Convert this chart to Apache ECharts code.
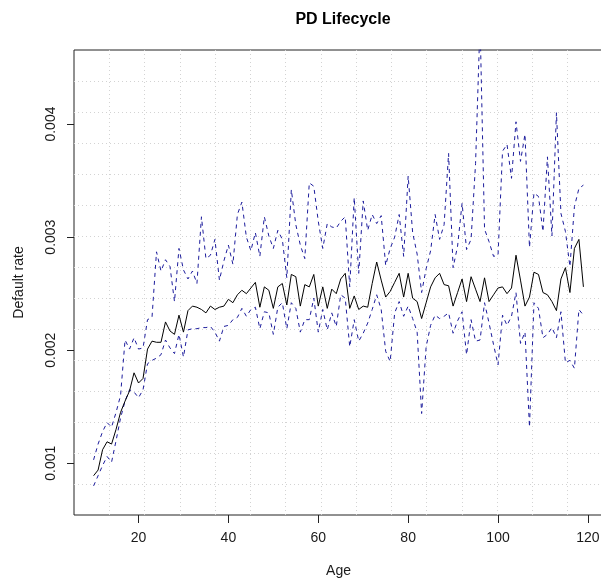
<!DOCTYPE html>
<html>
<head>
<meta charset="utf-8">
<script src="https://cdn.jsdelivr.net/npm/echarts@6/dist/echarts.min.js"></script>
<style>
html, body { margin: 0; padding: 0; background: #fff; }
#main { width: 601px; height: 579px; }
</style>
</head>
<body>
<div id="main"></div>
<script>
// ages 10..119
var ages = [
  10, 11, 12, 13, 14, 15, 16, 17, 18, 19,
  20, 21, 22, 23, 24, 25, 26, 27, 28, 29,
  30, 31, 32, 33, 34, 35, 36, 37, 38, 39,
  40, 41, 42, 43, 44, 45, 46, 47, 48, 49,
  50, 51, 52, 53, 54, 55, 56, 57, 58, 59,
  60, 61, 62, 63, 64, 65, 66, 67, 68, 69,
  70, 71, 72, 73, 74, 75, 76, 77, 78, 79,
  80, 81, 82, 83, 84, 85, 86, 87, 88, 89,
  90, 91, 92, 93, 94, 95, 96, 97, 98, 99,
  100, 101, 102, 103, 104, 105, 106, 107, 108, 109,
  110, 111, 112, 113, 114, 115, 116, 117, 118, 119
];

// PD 均值 (黑色实线)
var meanRate = [
  0.00089, 0.00094, 0.00112, 0.00119, 0.00117, 0.00130, 0.00145, 0.00155, 0.00164, 0.00180,
  0.00171, 0.00175, 0.00201, 0.00208, 0.00207, 0.00207, 0.00225, 0.00217, 0.00214, 0.00231,
  0.00216, 0.00235, 0.00239, 0.00238, 0.00236, 0.00233, 0.00239, 0.00236, 0.00238, 0.00239,
  0.00245, 0.00242, 0.00249, 0.00253, 0.00250, 0.00255, 0.00260, 0.00238, 0.00256, 0.00253,
  0.00237, 0.00256, 0.00259, 0.00240, 0.00267, 0.00265, 0.00239, 0.00258, 0.00256, 0.00267,
  0.00239, 0.00256, 0.00237, 0.00254, 0.00250, 0.00263, 0.00268, 0.00237, 0.00248, 0.00236,
  0.00239, 0.00238, 0.00259, 0.00278, 0.00262, 0.00247, 0.00252, 0.00260, 0.00268, 0.00247,
  0.00268, 0.00246, 0.00243, 0.00228, 0.00242, 0.00256, 0.00264, 0.00268, 0.00258, 0.00257,
  0.00239, 0.00251, 0.00263, 0.00243, 0.00265, 0.00254, 0.00243, 0.00264, 0.00243, 0.00249,
  0.00255, 0.00256, 0.00250, 0.00255, 0.00284, 0.00262, 0.00239, 0.00247, 0.00269, 0.00267,
  0.00251, 0.00249, 0.00243, 0.00235, 0.00263, 0.00273, 0.00251, 0.00290, 0.00298, 0.00256
];

// 上界 (蓝色虚线)
var upperRate = [
  0.00103, 0.00117, 0.00128, 0.00136, 0.00132, 0.00145, 0.00160, 0.00209, 0.00201, 0.00211,
  0.00201, 0.00202, 0.00227, 0.00229, 0.00287, 0.00270, 0.00280, 0.00274, 0.00243, 0.00290,
  0.00271, 0.00263, 0.00270, 0.00259, 0.00318, 0.00281, 0.00284, 0.00298, 0.00262, 0.00279,
  0.00293, 0.00276, 0.00320, 0.00331, 0.00300, 0.00288, 0.00304, 0.00283, 0.00318, 0.00301,
  0.00290, 0.00306, 0.00298, 0.00264, 0.00342, 0.00311, 0.00293, 0.00281, 0.00348, 0.00345,
  0.00314, 0.00290, 0.00312, 0.00309, 0.00308, 0.00314, 0.00318, 0.00256, 0.00335, 0.00268,
  0.00332, 0.00306, 0.00320, 0.00312, 0.00319, 0.00275, 0.00290, 0.00300, 0.00320, 0.00283,
  0.00354, 0.00304, 0.00285, 0.00251, 0.00272, 0.00288, 0.00320, 0.00298, 0.00311, 0.00374,
  0.00273, 0.00292, 0.00330, 0.00289, 0.00298, 0.00365, 0.00490, 0.00307, 0.00296, 0.00283,
  0.00284, 0.00376, 0.00382, 0.00352, 0.00402, 0.00367, 0.00391, 0.00291, 0.00339, 0.00336,
  0.00305, 0.00371, 0.00301, 0.00410, 0.00321, 0.00305, 0.00274, 0.00327, 0.00343, 0.00346
];

// 下界 (蓝色虚线)
var lowerRate = [
  0.00080, 0.00089, 0.00098, 0.00106, 0.00101, 0.00120, 0.00140, 0.00155, 0.00165, 0.00163,
  0.00158, 0.00165, 0.00188, 0.00191, 0.00193, 0.00196, 0.00209, 0.00202, 0.00197, 0.00214,
  0.00194, 0.00218, 0.00219, 0.00219, 0.00220, 0.00220, 0.00221, 0.00216, 0.00208, 0.00221,
  0.00222, 0.00227, 0.00229, 0.00237, 0.00230, 0.00236, 0.00238, 0.00219, 0.00234, 0.00233,
  0.00214, 0.00238, 0.00242, 0.00219, 0.00242, 0.00237, 0.00216, 0.00227, 0.00227, 0.00246,
  0.00216, 0.00236, 0.00218, 0.00233, 0.00221, 0.00249, 0.00246, 0.00203, 0.00227, 0.00208,
  0.00215, 0.00224, 0.00236, 0.00249, 0.00236, 0.00199, 0.00190, 0.00233, 0.00243, 0.00230,
  0.00239, 0.00228, 0.00216, 0.00144, 0.00203, 0.00222, 0.00231, 0.00228, 0.00230, 0.00233,
  0.00215, 0.00226, 0.00234, 0.00196, 0.00227, 0.00208, 0.00209, 0.00242, 0.00224, 0.00205,
  0.00187, 0.00231, 0.00222, 0.00230, 0.00251, 0.00206, 0.00216, 0.00132, 0.00242, 0.00237,
  0.00211, 0.00214, 0.00220, 0.00211, 0.00234, 0.00189, 0.00191, 0.00184, 0.00236, 0.00231
];

var xTicks = [20, 40, 60, 80, 100, 120];
var yTicks = [0.001, 0.002, 0.003, 0.004];

function toPairs(vals) {
    var out = [];
    for (var i = 0; i < ages.length; i++) {
        out.push([ages[i], vals[i]]);
    }
    return out;
}

var myChart = echarts.init(document.getElementById('main'));
var font = 'Liberation Sans, Arial, sans-serif';
var gridLine = {
    show: true,
    showMinLine: false,
    showMaxLine: false,
    lineStyle: { color: '#d3d3d3', type: [1, 3], width: 1 }
};
var bandColor = '#1c1c9c';

var option = {
    backgroundColor: '#fff',
    animation: false,
    textStyle: { fontFamily: font },
    title: {
        text: 'PD Lifecycle',
        left: 338,
        top: 7,
        textAlign: 'center',
        textStyle: { fontSize: 16, fontWeight: 'bold', color: '#000', fontFamily: font }
    },
    grid: {
        left: 74,
        top: 50,
        width: 529,
        height: 465,
        outerBoundsMode: 'none',
        show: true,
        borderColor: '#222',
        borderWidth: 1,
        backgroundColor: 'transparent'
    },
    xAxis: [
        {
            type: 'value',
            min: 5.64,
            max: 123.36,
            name: 'Age',
            nameLocation: 'middle',
            nameGap: 49,
            nameTextStyle: { fontSize: 14, color: '#1a1a1a' },
            axisLine: { show: false },
            axisTick: { show: true, length: 8, customValues: xTicks, lineStyle: { color: '#222' } },
            axisLabel: { customValues: xTicks, fontSize: 14, color: '#1a1a1a', margin: 16 },
            splitLine: { show: false }
        },
        {
            // 虚线网格 (15 等分)
            type: 'value',
            min: 0,
            max: 15,
            interval: 1,
            position: 'top',
            axisLine: { show: false },
            axisTick: { show: false },
            axisLabel: { show: false },
            splitLine: gridLine
        }
    ],
    yAxis: [
        {
            type: 'value',
            min: 0.0005425,
            max: 0.004655,
            name: 'Default rate',
            nameLocation: 'middle',
            nameGap: 48,
            nameRotate: 90,
            nameTextStyle: { fontSize: 14, color: '#1a1a1a' },
            axisLine: { show: false },
            axisTick: { show: true, length: 7, customValues: yTicks, lineStyle: { color: '#222' } },
            axisLabel: {
                customValues: yTicks,
                rotate: 90,
                fontSize: 14,
                color: '#1a1a1a',
                margin: 16,
                formatter: function (v) { return v.toFixed(3); }
            },
            splitLine: { show: false }
        },
        {
            type: 'value',
            min: 0,
            max: 15,
            interval: 1,
            position: 'right',
            axisLine: { show: false },
            axisTick: { show: false },
            axisLabel: { show: false },
            splitLine: gridLine
        }
    ],
    series: [
        {
            name: 'mean',
            type: 'line',
            data: toPairs(meanRate),
            showSymbol: false,
            symbol: 'none',
            lineStyle: { color: '#000', width: 1 },
            z: 3
        },
        {
            name: 'upper',
            type: 'line',
            data: toPairs(upperRate),
            showSymbol: false,
            symbol: 'none',
            lineStyle: { color: bandColor, width: 1, type: [4, 4] },
            z: 2
        },
        {
            name: 'lower',
            type: 'line',
            data: toPairs(lowerRate),
            showSymbol: false,
            symbol: 'none',
            lineStyle: { color: bandColor, width: 1, type: [4, 4] },
            z: 2
        }
    ]
};

myChart.setOption(option);
</script>
</body>
</html>
